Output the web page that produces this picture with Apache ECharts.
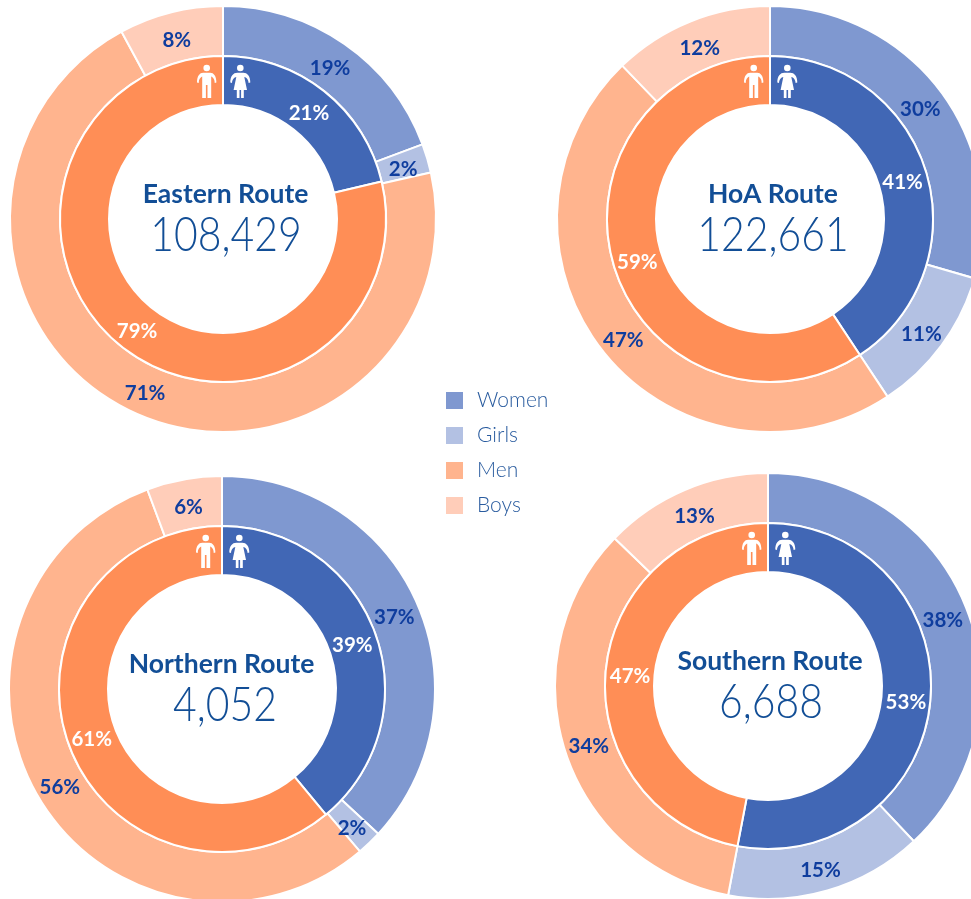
<!DOCTYPE html>
<html><head><meta charset="utf-8">
<style>html,body{margin:0;padding:0;background:#fff}#c{width:971px;height:899px}</style>
<script src="https://cdn.jsdelivr.net/npm/echarts@6/dist/echarts.min.js"></script>
</head><body><div id="c"></div>
<script>
const routes = ['Eastern Route','HoA Route','Northern Route','Southern Route'];
const totals = ['108,429','122,661','4,052','6,688'];
const outerNames = ['Women','Girls','Men','Boys'];
const innerNames = ['Women','Men'];
const womenOuter = [19.3, 29.5, 36.9, 38];
const girls      = [2.2, 11.2, 1.9, 15];
const menOuter   = [70.6, 47.1, 55.5, 34.2];
const boys       = [7.9, 12.2, 5.7, 12.8];
const womenInner = [21.3, 40.7, 39, 53];
const menInner   = [78.7, 59.3, 61, 47];

const centers = [[223,219],[770,219],[222,689],[768,686]];
const titleShift = [2.5,3,-0.5,2];
const outerColors = ['#7f98d0','#b3c1e3','#ffb48e','#ffcdb9'];
const innerColors = ['#4167b5','#ff8e56'];
const FONT = 'Lato, "Noto Sans", sans-serif';
const manPath = 'M0,-3.3a3.3,3.3 0 1,0 0.01,0zM-3.5,4.7H3.5C7,4.7 9.7,8 9.7,14.5L8,15C8,11 6,9 4.5,8.5V30H0.8V17H-0.8V30H-4.5V8.5C-6,9 -8,11 -8,15L-9.7,14.5C-9.7,8 -7,4.7 -3.5,4.7Z';
const womanPath = 'M0,-3.3a3.3,3.3 0 1,0 0.01,0zM-3,4.7H3C7,4.7 10,8 10,14.5L8.3,15C8,11 6,9.5 4,9L6.7,22H3.5V30H0.8V22H-0.8V30H-3.5V22H-6.7L-4,9C-6,9.5 -8,11 -8.3,15L-10,14.5C-10,8 -7,4.7 -3,4.7Z';
echarts.graphic.registerShape('manIcon', echarts.graphic.extendPath(manPath, {}));
echarts.graphic.registerShape('womanIcon', echarts.graphic.extendPath(womanPath, {}));

const series = [], graphic = [];
const fmt = p => Math.round(p.value) + '%';
routes.forEach((r,i)=>{
  const c = centers[i];
  const nudge = p => {
    const cx = p.labelRect.x + p.labelRect.width/2 - c[0];
    const cy = p.labelRect.y + p.labelRect.height/2 - c[1];
    const d = Math.hypot(cx,cy) || 1;
    return {dx:-cx/d*3, dy:-cy/d*3+3.5};
  };
  const common = {type:'pie',center:c,startAngle:90,clockwise:true,animation:false,silent:true,labelLayout:nudge,
    avoidLabelOverlap:false,labelLine:{show:false},itemStyle:{borderColor:'#fff',borderWidth:2}};
  const ov = [womenOuter[i],girls[i],menOuter[i],boys[i]];
  series.push(Object.assign({},common,{name:r+' outer',radius:[163,213],
    label:{show:true,position:'inside',formatter:fmt,color:'#0f3d9e',fontFamily:FONT,fontWeight:'bold',fontSize:20.5},
    data:outerNames.map((n,k)=>({name:n,value:ov[k],itemStyle:{color:outerColors[k]}}))}));
  const iv = [womenInner[i],menInner[i]];
  series.push(Object.assign({},common,{name:r+' inner',radius:[114,163],
    label:{show:true,position:'inside',formatter:fmt,color:'#fff',fontFamily:FONT,fontWeight:'bold',fontSize:20.5},
    data:innerNames.map((n,k)=>({name:n,value:iv[k],itemStyle:{color:innerColors[k]}}))}));
  graphic.push({type:'text',x:c[0]+titleShift[i],y:c[1]-25,silent:true,z:10,style:{text:r,align:'center',verticalAlign:'middle',
    font:'bold 26.5px '+FONT,fill:'#124e96'}});
  graphic.push({type:'text',x:c[0]+3,y:c[1]+17,scaleX:0.87,silent:true,z:10,style:{text:totals[i],align:'center',verticalAlign:'middle',
    font:'300 47px '+FONT,fill:'#124e96'}});
  graphic.push({type:'manIcon',silent:true,x:c[0]-16.3,y:c[1]-151,style:{fill:'#fff'},z:10});
  graphic.push({type:'womanIcon',silent:true,x:c[0]+17.3,y:c[1]-151,style:{fill:'#fff'},z:10});
});
const chart = echarts.init(document.getElementById('c'),null,{renderer:'canvas'});
chart.setOption({
  backgroundColor:'#fff',animation:false,
  legend:{orient:'vertical',left:446,top:390,padding:0,itemWidth:17,itemHeight:17,itemGap:14,selectedMode:false,icon:'rect',
    itemStyle:{borderWidth:0},
    data:outerNames,textStyle:{fontFamily:FONT,fontWeight:300,fontSize:21,color:'#2a5c9f',padding:[0,0,0,9]}},
  series,graphic
});
</script></body></html>
